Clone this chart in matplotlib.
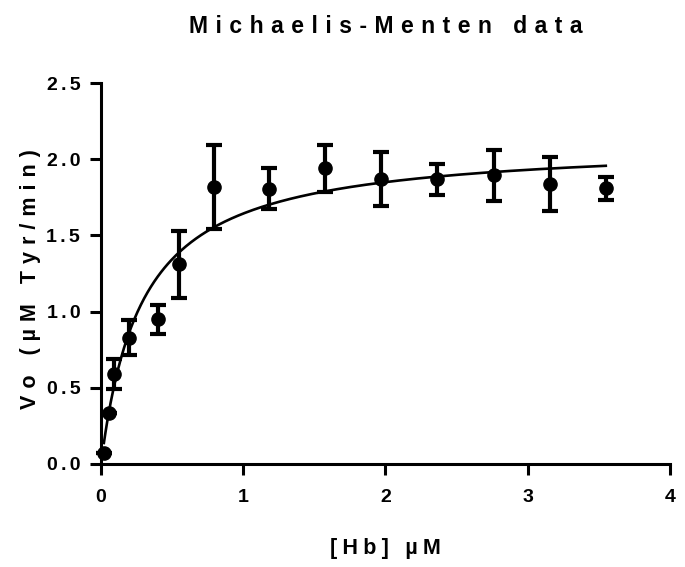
import numpy as np
import matplotlib
matplotlib.use("Agg")
import matplotlib.pyplot as plt

plt.rcParams['font.family'] = ['Liberation Sans', 'DejaVu Sans']
plt.rcParams['font.weight'] = 'bold'

# substrate concentration, mean rate and SD
hb = [0.02, 0.056, 0.092, 0.197, 0.397, 0.545, 0.796, 1.183, 1.577, 1.97, 2.364, 2.76, 3.155, 3.549]
vo = [0.07, 0.333, 0.589, 0.829, 0.949, 1.312, 1.818, 1.806, 1.94, 1.87, 1.868, 1.894, 1.837, 1.809]
sd = [0.0, 0.0, 0.098, 0.115, 0.095, 0.22, 0.273, 0.135, 0.152, 0.18, 0.102, 0.166, 0.178, 0.075]

# fitted Michaelis-Menten parameters
vmax = 2.115
km = 0.287

xticks = [0, 1, 2, 3, 4]
yticks = [0.0, 0.5, 1.0, 1.5, 2.0, 2.5]


def track(s, n=2):
    # widen letter spacing with hair spaces
    return ('\u200a' * n).join(s)


fig = plt.figure(figsize=(6.85, 5.67), dpi=100)
ax = fig.add_axes([0.1475, 0.1817, 0.8305, 0.6719])

xs = np.linspace(hb[0], hb[-1], 300)
ax.plot(xs, vmax * xs / (km + xs), color='black', lw=1.9, zorder=2)
ax.errorbar(hb, vo, yerr=sd, fmt='o', color='black', ms=9.5, elinewidth=3,
            capsize=5.5, capthick=3, zorder=3, clip_on=False)

ax.set_xlim(0, 4)
ax.set_ylim(0, 2.5)
ax.set_xticks(xticks)
ax.set_yticks(yticks)
ax.set_xticklabels([track(str(t), 2) for t in xticks], fontweight='bold')
ax.set_yticklabels([track(f'{t:.1f}', 2) for t in yticks], fontweight='bold')
ax.tick_params(length=8, width=2.2, labelsize=14, pad=7)
ax.tick_params(axis='x', pad=10)

for side in ['top', 'right']:
    ax.spines[side].set_visible(False)
for side in ['left', 'bottom']:
    ax.spines[side].set_linewidth(2.2)

ax.set_xlabel(track('[Hb] µM', 3), fontsize=15.5, fontweight='bold', labelpad=23)
ax.set_ylabel(track('Vo (µM Tyr/min)', 4), fontsize=15.5, fontweight='bold')
ax.yaxis.set_label_coords(-0.105, 0.485)
ax.set_title(track('Michaelis-Menten data', 4), fontsize=16.5, fontweight='bold', pad=36)

fig.savefig('out.png', dpi=100)
